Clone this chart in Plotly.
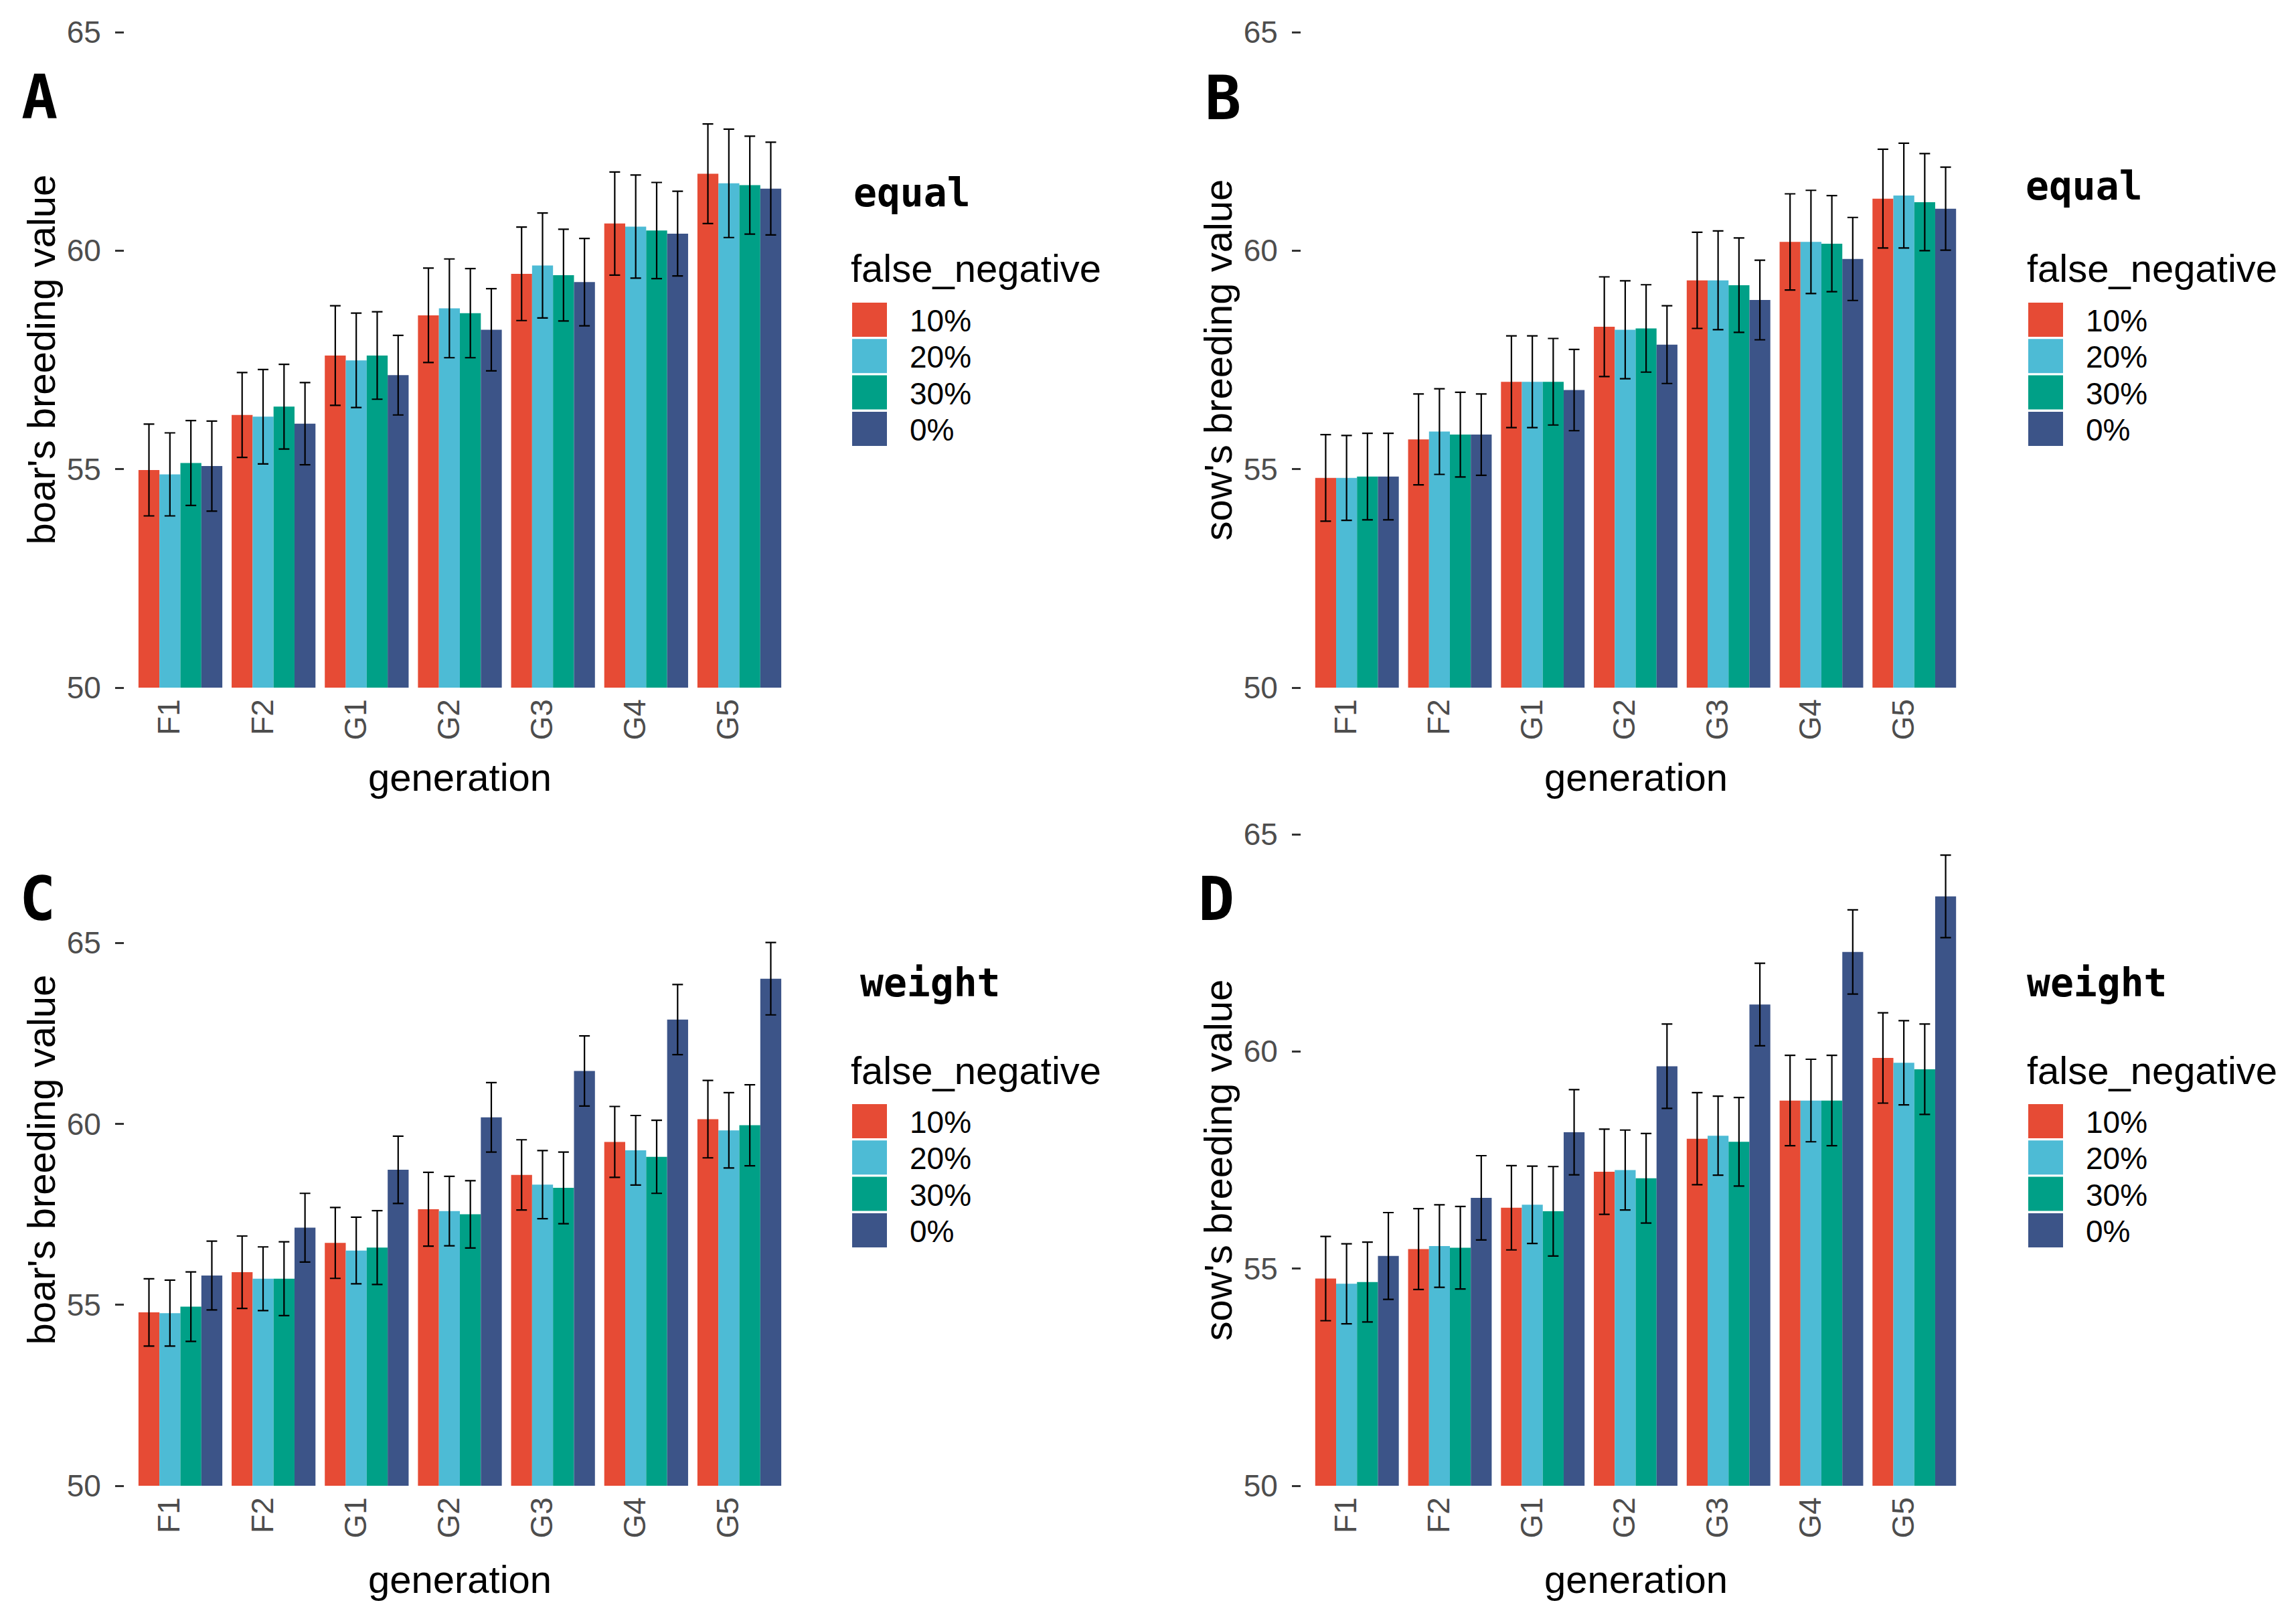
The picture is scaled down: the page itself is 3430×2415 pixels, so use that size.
import plotly.graph_objects as go

# ---------------- data ----------------
generations = ["F1", "F2", "G1", "G2", "G3", "G4", "G5"]
series = ["10%", "20%", "30%", "0%"]
colors = ["#E64B35", "#4DBBD5", "#00A087", "#3C5488"]

# Panel A: equal, boar
A_means = [
    [54.98, 56.24, 57.60, 58.52, 59.47, 60.62, 61.76],
    [54.88, 56.20, 57.49, 58.68, 59.66, 60.55, 61.54],
    [55.14, 56.43, 57.60, 58.57, 59.44, 60.46, 61.50],
    [55.07, 56.04, 57.15, 58.19, 59.28, 60.39, 61.42],
]
A_err = [
    [1.05, 0.97, 1.14, 1.08, 1.07, 1.18, 1.14],
    [0.95, 1.08, 1.08, 1.13, 1.20, 1.18, 1.24],
    [0.97, 0.97, 1.00, 1.02, 1.05, 1.10, 1.12],
    [1.03, 0.94, 0.91, 0.94, 1.00, 0.97, 1.06],
]
# Panel B: equal, sow
B_means = [
    [54.80, 55.68, 57.00, 58.26, 59.32, 60.20, 61.19],
    [54.80, 55.86, 57.00, 58.19, 59.32, 60.20, 61.26],
    [54.83, 55.79, 57.00, 58.22, 59.21, 60.16, 61.11],
    [54.83, 55.79, 56.81, 57.85, 58.87, 59.81, 60.96],
]
B_err = [
    [0.99, 1.04, 1.05, 1.14, 1.10, 1.10, 1.13],
    [0.97, 0.98, 1.05, 1.12, 1.13, 1.18, 1.20],
    [0.99, 0.97, 0.99, 1.00, 1.08, 1.10, 1.11],
    [0.99, 0.93, 0.93, 0.89, 0.91, 0.95, 0.95],
]
# Panel C: weight, boar
C_means = [
    [54.79, 55.90, 56.71, 57.64, 58.59, 59.50, 60.13],
    [54.77, 55.72, 56.50, 57.59, 58.32, 59.27, 59.82],
    [54.95, 55.72, 56.58, 57.50, 58.23, 59.09, 59.96],
    [55.81, 57.13, 58.73, 60.18, 61.46, 62.88, 64.01],
]
C_err = [
    [0.93, 1.00, 0.98, 1.02, 0.97, 0.98, 1.07],
    [0.91, 0.88, 0.92, 0.96, 0.94, 0.96, 1.04],
    [0.96, 1.02, 1.02, 0.93, 0.99, 1.01, 1.12],
    [0.95, 0.95, 0.93, 0.96, 0.97, 0.97, 1.00],
]
# Panel D: weight, sow
D_means = [
    [54.77, 55.45, 56.40, 57.23, 57.99, 58.87, 59.85],
    [54.65, 55.52, 56.47, 57.27, 58.06, 58.87, 59.74],
    [54.69, 55.48, 56.32, 57.08, 57.92, 58.87, 59.59],
    [55.29, 56.63, 58.14, 59.66, 61.08, 62.29, 63.57],
]
D_err = [
    [0.97, 0.93, 0.97, 0.98, 1.06, 1.04, 1.04],
    [0.92, 0.95, 0.89, 0.92, 0.91, 0.95, 0.97],
    [0.92, 0.95, 1.03, 1.03, 1.02, 1.04, 1.04],
    [1.00, 0.97, 0.98, 0.97, 0.95, 0.97, 0.95],
]
y_ticks = [50, 55, 60, 65]

# ---------------- layout helpers ----------------
W, H = 3430, 2415
def px(x):
    return x / W
def py(y):
    return 1 - y / H

FONT = "Liberation Sans, Arial, sans-serif"
MONO = "DejaVu Sans Mono, monospace"

panels = [
    dict(lab="A", m=A_means, e=A_err, xd=(186, 1188), yd=(48, 1027), yr=(50, 65), gy=1161,
         yt="boar's breeding value", lt="equal", lx=1273, ly=452, tx=1273, ty=288, labx=59, laby=145),
    dict(lab="B", m=B_means, e=B_err, xd=(1944, 2943), yd=(48, 1027), yr=(50, 65), gy=1161,
         yt="sow's breeding value", lt="equal", lx=3030, ly=452, tx=3024, ty=278, labx=1827, laby=147),
    dict(lab="C", m=C_means, e=C_err, xd=(186, 1188), yd=(1246, 2219), yr=(50, 68), gy=2358,
         yt="boar's breeding value", lt="weight", lx=1273, ly=1649, tx=1283, ty=1468, labx=56, laby=1342),
    dict(lab="D", m=D_means, e=D_err, xd=(1944, 2943), yd=(1246, 2219), yr=(50, 65), gy=2358,
         yt="sow's breeding value", lt="weight", lx=3030, ly=1649, tx=3026, ty=1468, labx=1817, laby=1342),
]

fig = go.Figure()
annotations = []
shapes = []
layout_axes = {}

for i, p in enumerate(panels):
    n = i + 1
    xa = "x" if n == 1 else f"x{n}"
    ya = "y" if n == 1 else f"y{n}"
    for s_idx, s in enumerate(series):
        fig.add_trace(go.Bar(
            x=generations, y=p["m"][s_idx], name=s,
            marker=dict(color=colors[s_idx], line=dict(width=0)),
            error_y=dict(type="data", array=p["e"][s_idx], visible=True,
                         color="black", thickness=2.2, width=8),
            xaxis=xa, yaxis=ya, showlegend=False,
        ))
    xkey = "xaxis" if n == 1 else f"xaxis{n}"
    ykey = "yaxis" if n == 1 else f"yaxis{n}"
    layout_axes[xkey] = dict(
        domain=[px(p["xd"][0]), px(p["xd"][1])], anchor=ya, automargin=False,
        type="category", categoryorder="array", categoryarray=generations,
        range=[-0.6, 6.6], showgrid=False, zeroline=False, showline=False,
        ticks="", tickangle=-90, ticklabelstandoff=7, ticklabelshift=-16,
        tickfont=dict(family=FONT, size=46, color="#4D4D4D"),
    )
    layout_axes[ykey] = dict(
        domain=[py(p["yd"][1]), py(p["yd"][0])], anchor=xa, automargin=False,
        range=list(p["yr"]), tickvals=y_ticks, showgrid=False, zeroline=False,
        showline=False, ticks="outside", ticklen=13, tickwidth=3, tickcolor="#333333",
        ticklabelstandoff=12,
        tickfont=dict(family=FONT, size=46, color="#4D4D4D"),
    )
    xc = (p["xd"][0] + p["xd"][1]) / 2
    annotations.append(dict(text="generation", x=px(xc), y=py(p["gy"]),
                            xref="paper", yref="paper", xanchor="center", yanchor="middle",
                            showarrow=False, font=dict(family=FONT, size=58, color="black")))
    yc = (p["yd"][0] + p["yd"][1]) / 2
    annotations.append(dict(text=p["yt"], x=px(p["xd"][0] - 125), y=py(yc),
                            xref="paper", yref="paper", xanchor="center", yanchor="middle",
                            textangle=-90, showarrow=False,
                            font=dict(family=FONT, size=58, color="black")))
    annotations.append(dict(text="<b>" + p["lab"] + "</b>", x=px(p["labx"]), y=py(p["laby"]),
                            xref="paper", yref="paper", xanchor="center", yanchor="middle",
                            showarrow=False, font=dict(family=MONO, size=90, color="black")))
    annotations.append(dict(text="<b>" + p["lt"] + "</b>", x=px(p["tx"]), y=py(p["ty"]),
                            xref="paper", yref="paper", xanchor="left", yanchor="middle",
                            showarrow=False, font=dict(family=MONO, size=58, color="black")))
    annotations.append(dict(text="false_negative", x=px(p["lx"] - 4), y=py(p["ly"] - 51),
                            xref="paper", yref="paper", xanchor="left", yanchor="middle",
                            showarrow=False, font=dict(family=FONT, size=58, color="black")))
    for s_idx, s in enumerate(series):
        top = p["ly"] + s_idx * 54.3
        shapes.append(dict(type="rect", xref="paper", yref="paper",
                           x0=px(p["lx"]), x1=px(p["lx"] + 52),
                           y0=py(top + 51), y1=py(top),
                           fillcolor=colors[s_idx], line=dict(width=0)))
        annotations.append(dict(text=s, x=px(p["lx"] + 84), y=py(top + 27),
                                xref="paper", yref="paper", xanchor="left", yanchor="middle",
                                showarrow=False, font=dict(family=FONT, size=46, color="black")))

fig.update_layout(
    width=W, height=H, autosize=False,
    margin=dict(l=0, r=0, t=0, b=0, pad=0, autoexpand=False),
    paper_bgcolor="white", plot_bgcolor="white",
    barmode="group", bargap=0.1, bargroupgap=0,
    showlegend=False, annotations=annotations, shapes=shapes,
    **layout_axes,
)

fig.write_html("out.html", config={"responsive": False, "displayModeBar": False},
               include_plotlyjs=True, full_html=True,
               default_width="3430px", default_height="2415px",
               post_script="document.body.style.margin='0px';document.body.style.padding='0px';")
